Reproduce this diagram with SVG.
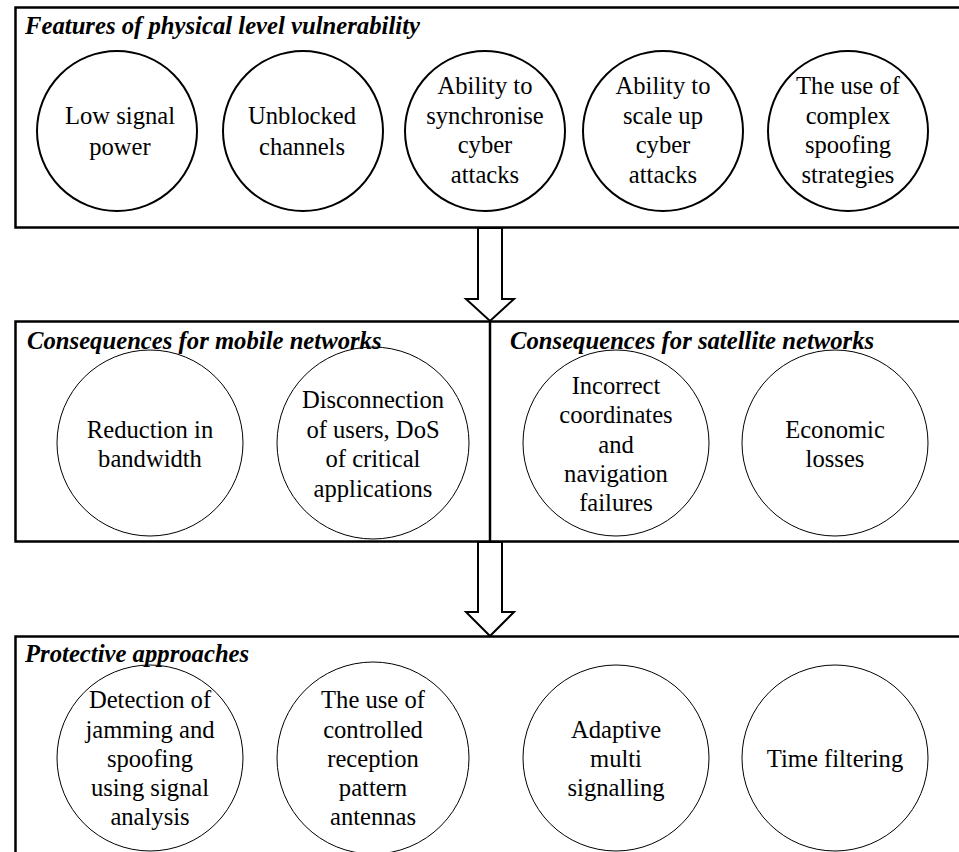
<svg xmlns="http://www.w3.org/2000/svg" width="959" height="852" viewBox="0 0 959 852">
<defs>
<style>
.box{fill:#fff;stroke:#000;stroke-width:2.5}
.c1{fill:#fff;stroke:#000;stroke-width:2}
.c2{fill:none;stroke:#000;stroke-width:1}
.ttl{font-family:'Liberation Serif','Times New Roman',serif;font-size:24.7px;font-weight:bold;font-style:italic;fill:#000}
.t{font-family:'Liberation Serif','Times New Roman',serif;font-size:24.6px;fill:#000;text-anchor:middle}
.arr{fill:#fff;stroke:#000;stroke-width:2;stroke-linejoin:miter}
.div{stroke:#000;stroke-width:2.5}
</style>
</defs>
<rect width="959" height="852" fill="#fff"/>
<g id="features">
<rect class="box" x="15.5" y="7.5" width="950" height="220"/>
<text class="ttl" x="25" y="34">Features of physical level vulnerability</text>
</g>
<g id="f1"><circle class="c1" cx="117" cy="131" r="80"/><text class="t" x="120" y="124">Low signal</text><text class="t" x="120" y="155">power</text></g>
<g id="f2"><circle class="c1" cx="303" cy="131" r="80"/><text class="t" x="302" y="124">Unblocked</text><text class="t" x="302" y="155">channels</text></g>
<g id="f3"><circle class="c1" cx="485" cy="131" r="80"/><text class="t" x="485" y="94">Ability to</text><text class="t" x="485" y="124">synchronise</text><text class="t" x="485" y="153">cyber</text><text class="t" x="485" y="183">attacks</text></g>
<g id="f4"><circle class="c1" cx="663" cy="131" r="80"/><text class="t" x="663" y="94">Ability to</text><text class="t" x="663" y="124">scale up</text><text class="t" x="663" y="153">cyber</text><text class="t" x="663" y="183">attacks</text></g>
<g id="f5"><circle class="c1" cx="848" cy="131" r="80"/><text class="t" x="848" y="94">The use of</text><text class="t" x="848" y="124">complex</text><text class="t" x="848" y="153">spoofing</text><text class="t" x="848" y="183">strategies</text></g>

<g id="consequences">
<rect class="box" x="15.5" y="321.5" width="950" height="220"/>
<line class="div" x1="490" y1="321.5" x2="490" y2="541.5"/>
<text class="ttl" x="27" y="349">Consequences for mobile networks</text>
<text class="ttl" x="510" y="349">Consequences for satellite networks</text>
</g>
<g id="m1"><circle class="c2" cx="150" cy="443" r="93"/><text class="t" x="150" y="438">Reduction in</text><text class="t" x="150" y="467">bandwidth</text></g>
<g id="m2"><circle class="c2" cx="373" cy="443" r="96"/><text class="t" x="373" y="408">Disconnection</text><text class="t" x="373" y="438">of users, DoS</text><text class="t" x="373" y="467">of critical</text><text class="t" x="373" y="497">applications</text></g>
<g id="s1"><circle class="c2" cx="616" cy="443" r="93"/><text class="t" x="616" y="394">Incorrect</text><text class="t" x="616" y="423">coordinates</text><text class="t" x="616" y="453">and</text><text class="t" x="616" y="482">navigation</text><text class="t" x="616" y="511">failures</text></g>
<g id="s2"><circle class="c2" cx="835" cy="443" r="93"/><text class="t" x="835" y="438">Economic</text><text class="t" x="835" y="467">losses</text></g>

<g id="protective">
<rect class="box" x="15.5" y="636.5" width="950" height="230"/>
<text class="ttl" x="25" y="662">Protective approaches</text>
</g>
<g id="p1"><circle class="c2" cx="150" cy="758" r="93"/><text class="t" x="150" y="708">Detection of</text><text class="t" x="150" y="738">jamming and</text><text class="t" x="150" y="767">spoofing</text><text class="t" x="150" y="796">using signal</text><text class="t" x="150" y="825">analysis</text></g>
<g id="p2"><circle class="c2" cx="373" cy="758" r="96"/><text class="t" x="373" y="708">The use of</text><text class="t" x="373" y="738">controlled</text><text class="t" x="373" y="767">reception</text><text class="t" x="373" y="796">pattern</text><text class="t" x="373" y="825">antennas</text></g>
<g id="p3"><circle class="c2" cx="616" cy="758" r="93"/><text class="t" x="616" y="738">Adaptive</text><text class="t" x="616" y="767">multi</text><text class="t" x="616" y="796">signalling</text></g>
<g id="p4"><circle class="c2" cx="835" cy="758" r="93"/><text class="t" x="835" y="767">Time filtering</text></g>

<g id="connectors">
<polygon class="arr" points="478,228 502,228 502,299 514,299 490,321 466,299 478,299"/>
<polygon class="arr" points="478,542 502,542 502,612 514,612 490,636 466,612 478,612"/>
</g>
</svg>
